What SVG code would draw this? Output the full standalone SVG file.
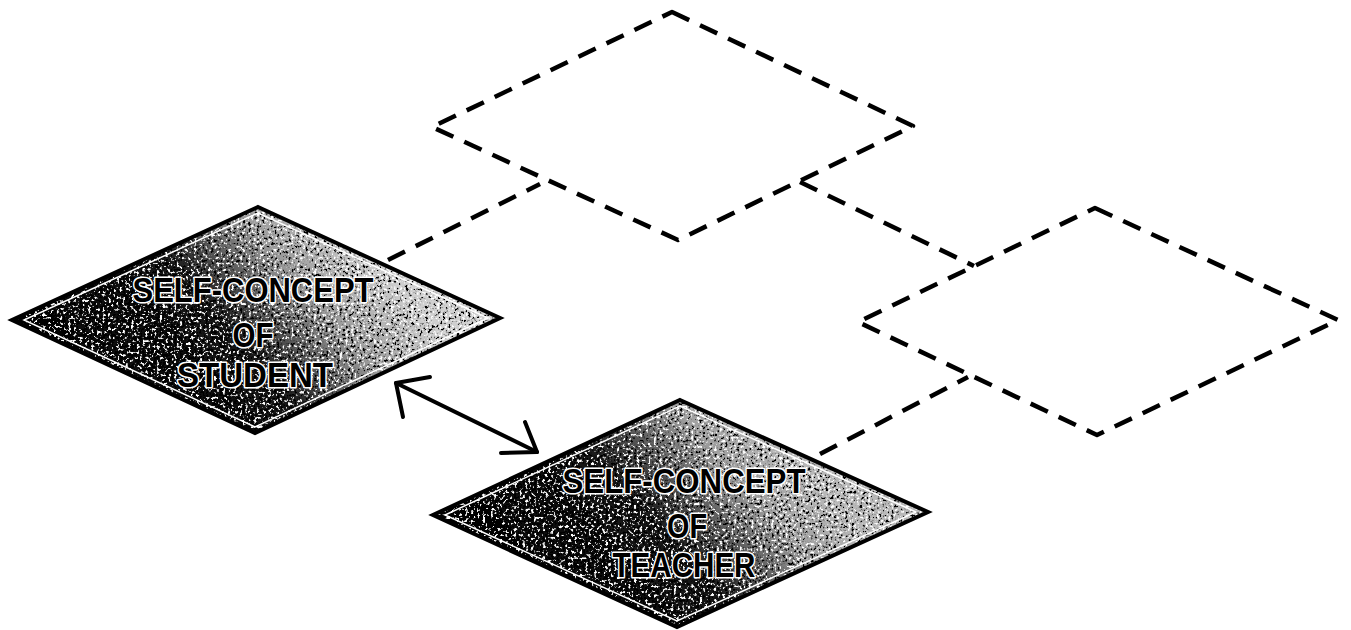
<svg xmlns="http://www.w3.org/2000/svg" width="1351" height="630" viewBox="0 0 1351 630">
<style>
.dash{fill:none;stroke:#000;stroke-width:4.5;stroke-dasharray:19 12;stroke-linejoin:round}
.outer{stroke:#000;stroke-width:4;stroke-linejoin:miter}
.inner{fill:none;stroke:#fff;stroke-width:1.5}
.lbl{font-family:"Liberation Sans","DejaVu Sans",sans-serif;font-weight:bold;font-size:35px;fill:#000;stroke:#fff;stroke-width:3.2;paint-order:stroke;stroke-linejoin:round;text-anchor:middle}
.arrow{fill:none;stroke:#000;stroke-width:4;stroke-linecap:round;stroke-linejoin:round}
</style>
<defs>
<linearGradient id="gS" gradientUnits="userSpaceOnUse" x1="130" y1="420" x2="350" y2="230">
<stop offset="0" stop-color="#050505"/>
<stop offset="0.45" stop-color="#161616"/>
<stop offset="0.75" stop-color="#9a9a9a"/>
<stop offset="1" stop-color="#cfcfcf"/>
</linearGradient>
<linearGradient id="gT" gradientUnits="userSpaceOnUse" x1="560" y1="600" x2="760" y2="420">
<stop offset="0" stop-color="#050505"/>
<stop offset="0.45" stop-color="#181818"/>
<stop offset="0.8" stop-color="#a0a0a0"/>
<stop offset="1" stop-color="#b8b8b8"/>
</linearGradient>
<filter id="grain" x="0" y="0" width="100%" height="100%">
<feTurbulence type="fractalNoise" baseFrequency="0.35" numOctaves="2" seed="4" result="n"/>
<feColorMatrix in="n" type="matrix" values="0 0 0 0 1 0 0 0 0 1 0 0 0 0 1 0 0 0 8 -4.7" result="w"/>
<feComposite in="w" in2="SourceGraphic" operator="in" result="w2"/>
<feColorMatrix in="n" type="matrix" values="0 0 0 0 0 0 0 0 0 0 0 0 0 0 0 0 0 0 -8 3.5" result="b"/>
<feComposite in="b" in2="SourceGraphic" operator="in" result="b2"/>
<feMerge><feMergeNode in="SourceGraphic"/><feMergeNode in="w2"/><feMergeNode in="b2"/></feMerge>
</filter>
</defs>

<g id="connectors">
<path class="dash" d="M388 260 L540 184"/>
<path class="dash" d="M800 182 L974 266"/>
<path class="dash" d="M820 454 L968 377"/>
<g id="arrow">
<path class="arrow" d="M396 383 L537 452"/>
<path class="arrow" d="M430 377 L396 383 L403 417"/>
<path class="arrow" d="M525 422 L537 452 L501 453"/>
</g>
</g>

<g id="node-top-dashed">
<polygon class="dash" points="672,12 913,126 678,240 432,127"/>
</g>

<g id="node-right-dashed">
<polygon class="dash" points="1095,208 1338,320 1097,435 858,322"/>
</g>

<g id="node-student">
<polygon points="258,207 500,318 255,433 12,320" fill="url(#gS)" filter="url(#grain)"/>
<polygon class="outer" fill="none" points="258,207 500,318 255,433 12,320"/>
<polygon class="inner" points="258,213 488,318 255,427 24,320"/>
<text class="lbl" x="253" y="302" textLength="241" lengthAdjust="spacingAndGlyphs">SELF-CONCEPT</text>
<text class="lbl" x="253" y="347" textLength="41" lengthAdjust="spacingAndGlyphs">OF</text>
<text class="lbl" x="255" y="387" textLength="156" lengthAdjust="spacingAndGlyphs">STUDENT</text>
</g>

<g id="node-teacher">
<polygon points="680,400 928,512 677,627 433,515" fill="url(#gT)" filter="url(#grain)"/>
<polygon class="outer" fill="none" points="680,400 928,512 677,627 433,515"/>
<polygon class="inner" points="680,406 916,512 677,621 445,515"/>
<text class="lbl" x="684" y="493" textLength="243" lengthAdjust="spacingAndGlyphs">SELF-CONCEPT</text>
<text class="lbl" x="687" y="538" textLength="40" lengthAdjust="spacingAndGlyphs">OF</text>
<text class="lbl" x="684" y="577" textLength="143" lengthAdjust="spacingAndGlyphs">TEACHER</text>
</g>
</svg>
